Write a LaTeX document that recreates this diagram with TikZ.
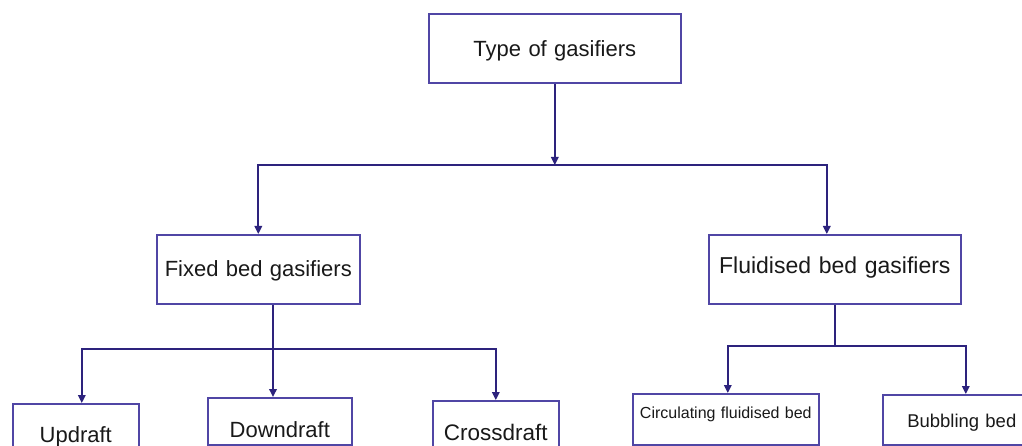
\documentclass[tikz,border=0pt]{standalone}
\usepackage{fontspec}
\setmainfont{Liberation Sans}
\usetikzlibrary{arrows.meta,calc}
\definecolor{linec}{RGB}{45,35,125}
\definecolor{boxc}{RGB}{80,70,165}
\begin{document}
\begin{tikzpicture}[x=1pt,y=-1pt,
  box/.style={draw=boxc,line width=1.6pt,fill=white,inner sep=0pt,anchor=north west,align=center,text=black!90},
  ln/.style={draw=linec,line width=1.8pt},
  arr/.style={ln,-{Triangle[length=8pt,width=7.5pt]}}]
\useasboundingbox (0,0) rectangle (1022,446);
\clip (0,0) rectangle (1022,446);
\fill[white] (0,0) rectangle (1022,446);
% boxes: left,top ; width ; text height = baseline-top ; depth = bottom-baseline
\node[box,text width=252pt,text height=43pt,text depth=26pt,font=\fontsize{22}{24}\selectfont] (top) at (428,13) {Type of gasifiers};
\node[box,text width=203pt,text height=42pt,text depth=27pt,font=\fontsize{22}{24}\selectfont] (fixed) at (156,234) {Fixed bed gasifiers};
\node[box,text width=252pt,text height=39pt,text depth=30pt,font=\fontsize{23}{25}\selectfont] (fluid) at (708,234) {Fluidised bed gasifiers};
\node[box,text width=126pt,text height=39pt,text depth=30pt,font=\fontsize{22}{24}\selectfont] (up) at (12,403) {Updraft};
\node[box,text width=144pt,text height=40pt,text depth=7pt,font=\fontsize{22}{24}\selectfont] (down) at (207,397) {Downdraft};
\node[box,text width=126pt,text height=40pt,text depth=30pt,font=\fontsize{22.5}{24}\selectfont] (cross) at (432,400) {Crossdraft};
\node[box,text width=186pt,text height=25pt,text depth=26pt,font=\fontsize{16}{18}\selectfont] (circ) at (632,393) {Circulating fluidised bed};
\node[box,text width=158pt,text height=33pt,text depth=17pt,font=\fontsize{18.5}{20}\selectfont] (bubb) at (882,394) {Bubbling bed};
% connectors
\coordinate (busA) at ($(top.south |- 0,165)$);
\coordinate (busB) at (273,349);
\coordinate (busC) at (835,346);
\draw[arr] (top.south) -- (busA);
\draw[arr] (busA) -| (fixed.north);
\draw[arr] (busA) -| ([xshift=-8pt]fluid.north);
\draw[ln] (fixed.south -| busB) -- (busB);
\draw[arr] (busB) -| ([xshift=6pt]up.north);
\draw[arr] (busB) -- (busB |- down.north);
\draw[arr] (busB) -| (cross.north);
\draw[ln] (fluid.south -| busC) -- (busC);
\draw[arr] (busC) -| ([xshift=2pt]circ.north);
\draw[arr] (busC) -| ([xshift=4pt]bubb.north);
\end{tikzpicture}
\end{document}
